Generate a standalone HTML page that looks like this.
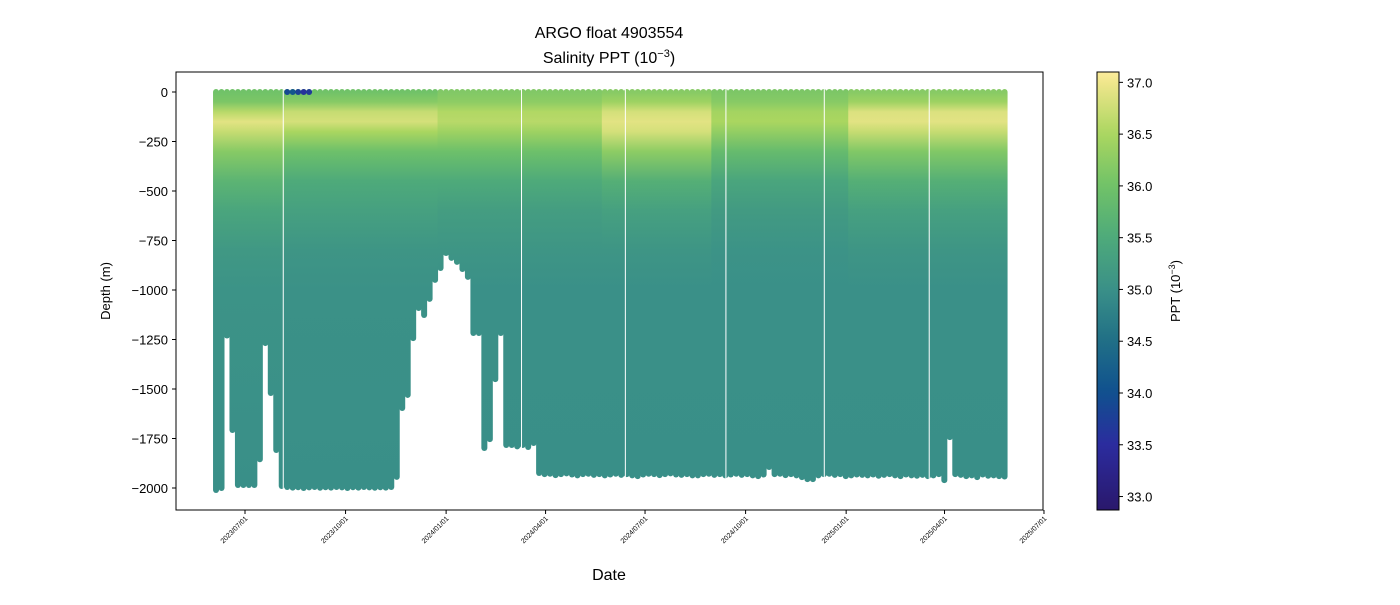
<!DOCTYPE html>
<html><head><meta charset="utf-8"><style>
body{margin:0;background:#fff;}
svg text{font-family:"Liberation Sans",sans-serif;fill:#000;}
</style></head><body>
<svg id="chart" width="1400" height="600" viewBox="0 0 1400 600" xmlns="http://www.w3.org/2000/svg">
<defs id="defs"></defs>
<text x="609" y="38" font-size="16" text-anchor="middle">ARGO float 4903554</text>
<text x="609" y="63" font-size="16" text-anchor="middle">Salinity PPT (10<tspan baseline-shift="super" font-size="11">−3</tspan>)</text>
<g id="plot"></g>
<rect x="176" y="72" width="867" height="438" fill="none" stroke="#000" stroke-width="1"/>
<g id="xaxis"></g>
<g id="yaxis"></g>
<text x="609" y="580" font-size="16" text-anchor="middle">Date</text>
<text transform="translate(110,291) rotate(-90)" font-size="13" text-anchor="middle">Depth (m)</text>
<g id="cbar"></g>
<text transform="translate(1180,291) rotate(-90)" font-size="13" text-anchor="middle">PPT (10<tspan baseline-shift="super" font-size="9">−3</tspan>)</text>
</svg>
<script>
const NS="http://www.w3.org/2000/svg";
// ---- data ----
const profileStartDay = 2.5; // days after 2023-06-02
const profileStepDays = 5.01;
const maxDepths = [2010,2000,1230,1707,1985,1985,1985,1985,1855,1268,1520,1808,1990,
1995,1998,1996,2000,1997,1995,1999,1996,1998,1995,1997,2000,1996,1998,1995,1997,1999,1996,1998,1995,
1944,1596,1530,1243,1091,1126,1045,949,889,813,838,858,894,934,1217,1217,1798,1753,1450,1217,1783,1783,1790,1783,1793,1773,
1924,1930,1928,1935,1930,1926,1932,1936,1930,1928,1934,1930,1936,1932,1928,1934,1930,1936,1940,1932,1928,1930,1935,1930,1926,1932,1934,1930,1936,
1936,1930,1928,1934,1930,1936,1932,1928,1934,1930,1936,1940,1932,1894,1930,1928,1935,1930,1936,1945,1955,1955,1936,1930,1928,1934,1930,1940,1936,1932,1934,
1936,1932,1938,1934,1930,1936,1940,1932,1936,1938,1934,1940,1936,1930,1960,1743,1930,1934,1940,1936,1945,1932,1938,1936,1940,1942];
const levels = [0,50,100,150,200,300,450,600,800,1000,2000];
const segStarts = [0,13,41,71,91,116];
const seg1 = [36.0,36.1,36.6,36.9,36.7,36.2,35.7,35.4,35.15,35.05,34.98];
const seg2 = [36.0,36.2,36.7,36.8,36.5,35.95,35.5,35.3,35.1,35.02,34.98];
const seg3 = [36.15,36.25,36.55,36.6,36.4,35.95,35.5,35.25,35.1,35.0,34.98];
const seg4 = [36.2,36.4,36.8,36.9,36.8,36.25,35.6,35.3,35.1,35.0,34.98];
const seg5 = [36.1,36.2,36.45,36.5,36.3,35.85,35.4,35.2,35.05,35.0,34.98];
const seg6 = [36.2,36.4,36.85,36.9,36.7,36.15,35.6,35.3,35.1,35.0,34.98];
const freshTopIdx = [13,14,15,16,17];
const freshTopSal = [33.9,34.1,33.8,33.6,33.7];
const gapDays = [64,282,377,469,559,655];
const xTickLabels = ["2023/07/01","2023/10/01","2024/01/01","2024/04/01","2024/07/01","2024/10/01","2025/01/01","2025/04/01","2025/07/01"];
const xTickDays = [29,121,213,304,395,487,579,669,760];
const yTicks = [0,-250,-500,-750,-1000,-1250,-1500,-1750,-2000];
const cbTicks = [33.0,33.5,34.0,34.5,35.0,35.5,36.0,36.5,37.0];
// ---- scales ----
const xDay = d => 213.3 + d*1.093;
const yDepth = d => 92 + d*0.198;
const vmin=32.87, vmax=37.1;
const cStops=[[32.87,[42,24,108]],[33.5,[43,44,158]],[34.0,[16,80,143]],[34.5,[32,111,134]],[35.0,[58,144,136]],[35.5,[78,170,122]],[36.0,[112,194,104]],[36.5,[170,214,96]],[37.0,[240,230,140]],[37.1,[252,236,156]]];
function cmap(v){
  v=Math.max(vmin,Math.min(vmax,v));
  for(let i=1;i<cStops.length;i++){ if(v<=cStops[i][0]){const a=cStops[i-1],b=cStops[i];const t=(v-a[0])/(b[0]-a[0]);
    const c=a[1].map((x,k)=>Math.round(x+(b[1][k]-x)*t));return `rgb(${c[0]},${c[1]},${c[2]})`;}}
  return "rgb(252,236,156)";
}
function mk(tag,attrs,parent){const e=document.createElementNS(NS,tag);for(const k in attrs)e.setAttribute(k,attrs[k]);parent.appendChild(e);return e;}
const defs=document.getElementById('defs');
const segs=[seg1,seg2,seg3,seg4,seg5,seg6];
segs.forEach((s,si)=>{
  const g=mk('linearGradient',{id:'g'+si,gradientUnits:'userSpaceOnUse',x1:0,x2:0,y1:yDepth(0),y2:yDepth(2000)},defs);
  levels.forEach((l,k)=>mk('stop',{offset:l/2000,'stop-color':cmap(s[k])},g));
});
const plot=document.getElementById('plot');
maxDepths.forEach((md,i)=>{
  let si=0;for(let k=0;k<segStarts.length;k++) if(i>=segStarts[k]) si=k;
  const cx=xDay(profileStartDay+i*profileStepDays);
  const r=mk('rect',{x:cx-3,y:yDepth(0)-3,width:6,height:yDepth(md)-yDepth(0)+6,rx:3,ry:3,fill:`url(#g${si})`},plot);
  
  
});
freshTopIdx.forEach((idx,k)=>{
  const cx=xDay(profileStartDay+idx*profileStepDays);
  const c=mk('circle',{cx:cx,cy:yDepth(0),r:3,fill:cmap(freshTopSal[k])},plot);
  
  
});
gapDays.forEach(d=>{
  const l=mk('line',{x1:xDay(d),x2:xDay(d),y1:85,y2:500,stroke:'#fff','stroke-width':1},plot);
  
  
});
const xa=document.getElementById('xaxis');
xTickDays.forEach((d,i)=>{
  const x=xDay(d);
  mk('line',{x1:x,x2:x,y1:510,y2:514,stroke:'#000'},xa);
  const t=mk('text',{transform:`translate(${x+3},${519}) rotate(-45)`,'font-size':'7','text-anchor':'end'},xa);
  t.textContent=xTickLabels[i];
  
  
});
const ya=document.getElementById('yaxis');
yTicks.forEach(v=>{
  const y=yDepth(-v);
  mk('line',{x1:172,x2:176,y1:y,y2:y,stroke:'#000'},ya);
  const t=mk('text',{x:168,y:y+5,'font-size':'13','text-anchor':'end'},ya);
  t.textContent=(v<0?'−':'')+Math.abs(v);
  
  
});
const cb=document.getElementById('cbar');
const cg=mk('linearGradient',{id:'cbg',x1:0,x2:0,y1:1,y2:0},defs);
for(let k=0;k<=40;k++){const v=vmin+(vmax-vmin)*k/40;mk('stop',{offset:k/40,'stop-color':cmap(v)},cg);}
mk('rect',{x:1097,y:72,width:22,height:438,fill:'url(#cbg)',stroke:'#000','stroke-width':1},cb);
const cy=v=>510-(v-vmin)/(vmax-vmin)*438;
cbTicks.forEach(v=>{
  const y=cy(v);
  mk('line',{x1:1119,x2:1123,y1:y,y2:y,stroke:'#000'},cb);
  const t=mk('text',{x:1127,y:y+5,'font-size':'13'},cb);
  t.textContent=v.toFixed(1);
  
  
});
</script>
</body></html>
